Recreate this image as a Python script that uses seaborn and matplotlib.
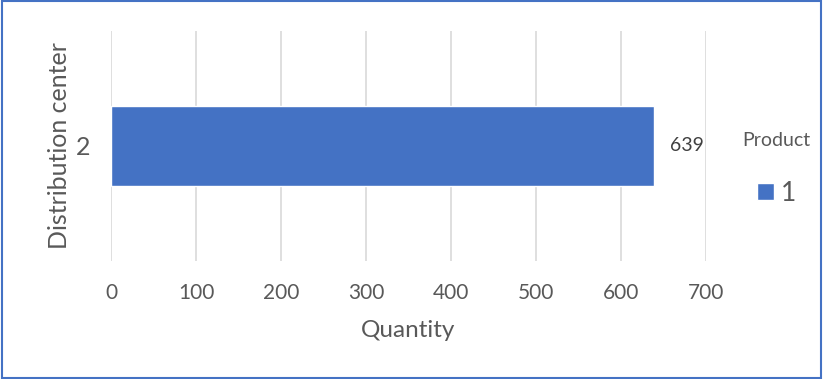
import matplotlib
matplotlib.use("Agg")
import matplotlib.pyplot as plt
import seaborn as sns
import pandas as pd
from matplotlib.patches import Rectangle

# Chart data
centers = ["2"]
products = ["1"]
quantities = [639]
x_ticks = [0, 100, 200, 300, 400, 500, 600, 700]

df = pd.DataFrame({"Distribution center": centers,
                   "Product": products,
                   "Quantity": quantities})

sns.set_theme(style="white")
plt.rcParams["font.family"] = ["Lato", "DejaVu Sans"]

BLUE = "#4472C4"
TXT = "#595959"

fig = plt.figure(figsize=(8.23, 3.79), dpi=100)
ax = fig.add_axes([0.1349, 0.3113, 0.723, 0.607])

sns.barplot(data=df, x="Quantity", y="Distribution center", hue="Product",
            palette=[BLUE], orient="h", width=0.352, ax=ax, saturation=1)

ax.set_xlim(0, 700)
ax.set_ylim(0.5, -0.5)
ax.set_xticks(x_ticks)
ax.set_xticklabels([str(t) for t in x_ticks])
ax.grid(axis="x", color="#d9d9d9", linewidth=1.2)
ax.grid(axis="y", visible=False)
ax.set_axisbelow(True)
for s in ax.spines.values():
    s.set_visible(False)
ax.tick_params(axis="x", length=0, labelsize=15, colors=TXT, pad=16)
ax.tick_params(axis="y", length=0, labelsize=18, colors=TXT, pad=15)

ax.set_xlabel("Quantity", fontsize=17.5, color=TXT)
ax.xaxis.label.set_va("center")
ax.xaxis.set_label_coords(0.5, -0.30)
ax.set_ylabel("Distribution center", fontsize=18, color=TXT)
ax.yaxis.label.set_va("center")
ax.yaxis.set_label_coords(-0.086, 0.5)

for cont in ax.containers:
    ax.bar_label(cont, labels=[str(q) for q in quantities],
                 padding=11.5, fontsize=14, color="#404040")

sns.move_legend(ax, "center left", bbox_to_anchor=(1.03, 0.40),
                frameon=False, title="Product", fontsize=19,
                title_fontsize=14, handlelength=0.65, handleheight=0.65,
                handletextpad=0.25, labelspacing=1.2, borderpad=0.2)
leg = ax.get_legend()
leg.get_title().set_color(TXT)
for t in leg.get_texts():
    t.set_color(TXT)

# outer frame around the chart
fig.patches.append(Rectangle((0.002, 0.003), 0.996, 0.994, transform=fig.transFigure,
                             fill=False, edgecolor=BLUE, linewidth=1.5))

fig.savefig("out.png", dpi=100)
